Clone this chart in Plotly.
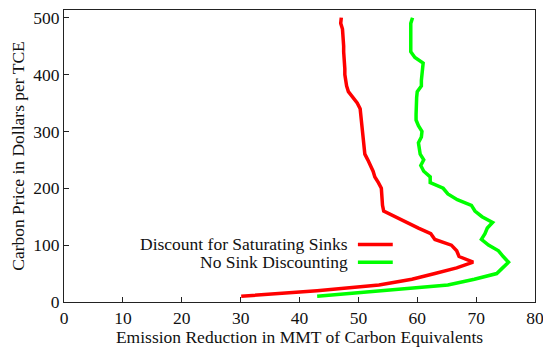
import plotly.graph_objects as go

# Carbon price (dollars per TCE) at which each reduction is reached
price = list(range(10, 510, 10))

# Emission reduction (MMT carbon equivalents), discounting for saturating sinks
reduction_saturating = [
    30.1, 43.0, 53.5, 59.1, 63.0, 66.7, 69.5, 67.1, 66.7, 65.8,
    63.0, 62.3, 60.2, 58.2, 56.0, 54.3, 54.1, 54.0, 54.0, 53.9,
    53.4, 52.8, 52.5, 52.1, 51.6, 51.1, 51.0, 50.8, 50.7, 50.6,
    50.5, 50.4, 50.4, 50.3, 49.8, 49.1, 48.3, 48.0, 47.8, 47.7,
    47.7, 47.6, 47.6, 47.5, 47.5, 47.4, 47.4, 47.3, 47.0, 47.1,
]

# Emission reduction with no sink discounting
reduction_no_discount = [
    43.0, 53.5, 65.2, 69.7, 73.5, 74.5, 75.5, 74.6, 73.8, 72.1,
    70.9, 71.5, 71.9, 72.8, 71.0, 69.8, 69.2, 66.8, 65.2, 64.4,
    62.2, 62.2, 61.1, 60.6, 61.1, 60.5, 60.3, 60.2, 60.7, 60.8,
    60.2, 59.8, 59.8, 59.8, 59.8, 59.9, 60.0, 60.7, 60.7, 60.8,
    60.9, 61.0, 59.6, 58.9, 58.9, 58.9, 58.9, 59.0, 58.9, 59.2,
]

series_names = ["Discount for Saturating Sinks", "No Sink Discounting"]
series_colors = ["#ff0000", "#00ff00"]

x_ticks = [0, 10, 20, 30, 40, 50, 60, 70, 80]
y_ticks = [0, 100, 200, 300, 400, 500]

FONT = "Liberation Serif, Times New Roman, serif"
FSIZE = 17.5

fig = go.Figure()
for name, vals, col in zip(series_names,
                           [reduction_saturating, reduction_no_discount],
                           series_colors):
    fig.add_trace(go.Scatter(
        x=vals, y=price, mode="lines", name=name,
        line=dict(color=col, width=3.5),
        showlegend=False,
    ))

# Legend: right-aligned labels followed by a short line sample
legend_y = [0.197, 0.136]
for name, col, ly in zip(series_names, series_colors, legend_y):
    fig.add_annotation(
        x=0.607, y=ly, xref="paper", yref="paper",
        xanchor="right", yanchor="middle", showarrow=False,
        text=name, font=dict(family=FONT, size=FSIZE, color="#111"),
    )
    fig.add_shape(
        type="line", xref="paper", yref="paper",
        x0=0.624, x1=0.698, y0=ly, y1=ly,
        line=dict(color=col, width=3.5),
    )

axis_common = dict(
    showgrid=False, zeroline=False, automargin=False,
    showline=True, linecolor="#222", linewidth=1, mirror=True,
    ticks="inside", ticklen=5, tickcolor="#222",
    ticklabeloverflow="allow",
    tickfont=dict(family=FONT, size=FSIZE, color="#111"),
)

fig.update_xaxes(
    range=[0, 80], tickvals=x_ticks,
    title=dict(text="Emission Reduction in MMT of Carbon Equivalents",
               font=dict(family=FONT, size=FSIZE, color="#111"), standoff=4),
    **axis_common,
)
fig.update_yaxes(
    range=[0, 513.5], tickvals=y_ticks,
    title=dict(text="Carbon Price in Dollars per TCE",
               font=dict(family=FONT, size=FSIZE, color="#111"), standoff=4),
    **axis_common,
)

fig.update_layout(
    width=543, height=347,
    margin=dict(l=64, r=8, t=10, b=45),
    plot_bgcolor="white", paper_bgcolor="white",
)

fig.write_html("out.html")
